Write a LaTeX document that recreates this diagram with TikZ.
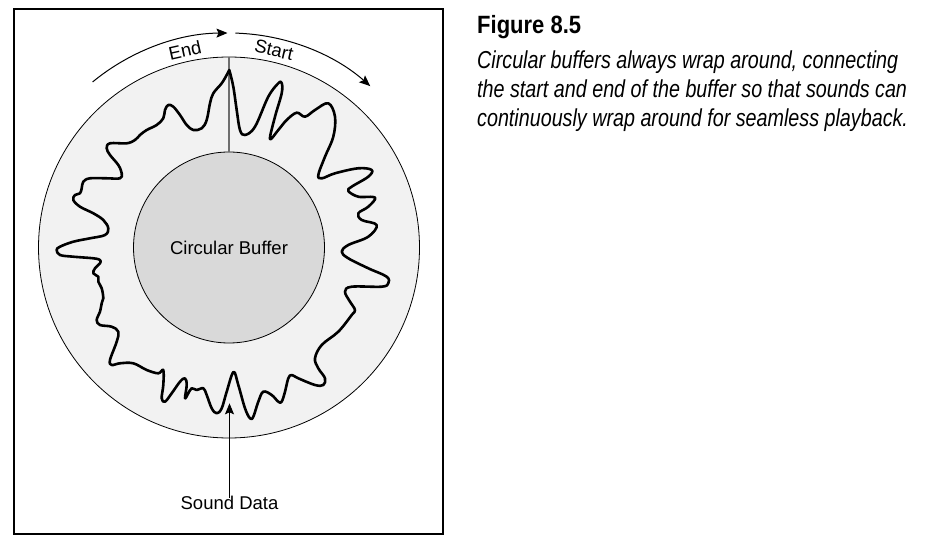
\documentclass[tikz,border=0pt]{standalone}
\usepackage{fontspec}
\setmainfont{Liberation Sans}
\newfontfamily\capfont[FakeStretch=0.805]{Liberation Sans}
\newfontfamily\titfont[FakeStretch=0.88]{Liberation Sans}
\usetikzlibrary{arrows.meta}
\definecolor{ringgray}{HTML}{F2F2F2}
\definecolor{coregray}{HTML}{D9D9D9}
\definecolor{seamgray}{HTML}{6E6E6E}
\tikzset{
  frame/.style={draw=black, line width=2pt},
  ring/.style={circle, draw=black, line width=0.8pt, fill=ringgray, inner sep=0pt},
  core/.style={circle, draw=black, line width=0.8pt, fill=coregray, inner sep=0pt},
  seam/.style={draw=seamgray, line width=1.2pt},
  wave/.style={draw=black, line width=2.6pt, line join=round, line cap=round},
  pointer/.style={draw=black, line width=1pt, -{Stealth[length=11pt,width=9pt,inset=2pt]}},
  lbl/.style={font=\fontsize{18.5}{22}\selectfont, inner sep=0pt},
  captext/.style={font=\capfont\itshape\fontsize{24.5}{29}\selectfont, anchor=base west, inner sep=0pt},
}
\begin{document}
\begin{tikzpicture}[x=1pt,y=-1pt]
\useasboundingbox (0,0) rectangle (929,545);
\draw[frame] (14,9) rectangle (443,534);
\coordinate (C) at (229,247.5);
\node[ring, minimum size=381pt] (outer) at (C) {};
\node[core, minimum size=191pt] (inner) at (C) {};
\draw[seam] (inner.north) -- (outer.north);
\draw[wave] plot[smooth, tension=0.6] coordinates {
(229.3,70) (233.3,86.7) (236.7,110) (240,130) (245,135) (255,126.7) (268.3,96.7) (278.3,83.3) (281.7,83) (281.7,93.3) (275,116.7) (270,139) (278.3,130) (286.7,120) (296.7,112.7) (305,116.7) (315,110) (328.3,103.3) (335,116.7) (333.3,136.7) (325,156.7) (318.3,175) (322,178.3) (335,173.3) (358.3,168.3) (371.7,170) (368.3,176.7) (351.7,186.7) (348.3,191) (358.3,196.7) (375,197.5) (368.3,206.7) (358.3,213.3) (361.7,220) (376.7,225) (368.3,236.7) (348.3,245) (341.7,251.7)
(348.3,258.3) (368.3,268.3) (386.7,276.7) (388.3,283.3) (381.7,286.7) (351.7,286.7) (345,291.7) (350,301.7) (355,310) (351.7,315) (338.3,331.7) (321.7,345) (315,358.3) (318.3,368.3) (325,378.3) (323.3,385) (315,385) (298.3,378.3) (291.7,375) (288.3,378.3) (285,391.7) (281.7,401.7) (278.3,401.7) (271.7,395) (263.3,391.7) (258.3,401.7) (253.3,416.7) (250,418.3) (245,408.3) (238.3,385) (233.5,372)
(226.7,391.7) (221.7,408.3) (216.7,413.3) (211.7,408.3) (206.7,395) (203.3,388.3) (196.7,390) (191.7,388.3) (188.3,393.3) (185,398.3) (186.7,385) (185,378.3) (180,381.7) (171.7,393.3) (165,401.7) (161.7,398.3) (163.3,385) (163.3,370) (158.3,373.3) (146.7,370) (133.3,363.3) (120,363.3) (111.7,365) (110,360) (116.7,341.7) (118.3,331.7) (111.7,326.7) (100,325) (96.7,320) (100,311.7) (101.7,303.3) (103.3,298.3) (101.7,288.3) (98.3,281.7) (98.3,276.7) (93.3,273.3) (95,268.3) (100,263.3) (100,260) (93.3,258.3) (73.3,256.7) (60,255) (56.7,250)
(60,246.7) (73.3,241.7) (90,238.3) (105,235) (108.3,228.3) (103.3,220) (93.3,213.3) (80,206.7) (73.3,200) (75,195) (80,193.3) (81.7,188.3) (83.3,181.7) (90,178.3) (106.7,178.3) (120,178.3) (121.7,173.3) (118.3,165) (110,155) (106.7,148.3) (110,143.3) (126.7,143.3) (135,140) (140,135) (146.7,130) (156.7,125) (163.3,118.3) (165,110) (168.3,105) (173.3,106.7) (180,115) (186.7,125) (193.3,130) (201.7,128.3) (206.7,120) (210,103.3) (213.3,93.3) (221.7,83.3) (226.7,75) (229.3,70)
};
\node[lbl] (buf) at (C) {Circular Buffer};
% wrap arrows
\draw[pointer] (C) ++(-129.5:214.5) arc[start angle=-129.5, end angle=-90.4, radius=214.5] coordinate (endtip);
\draw[pointer] (C) ++(-88.3:214.5) arc[start angle=-88.3, end angle=-48.8, radius=214.5] coordinate (starttip);
\node[lbl, rotate=12.6] (endlbl) at (185,50) {End};
\node[lbl, rotate=-13] (startlbl) at (274,50) {Start};
% sound data pointer
\node[lbl] (sound) at (229.5,502.5) {Sound Data};
\coordinate (wavept) at (229.5,403.3);
\draw[pointer] ([yshift=-2pt]sound.north) -- (wavept);
% caption
\node[font=\titfont\bfseries\fontsize{25}{30}\selectfont, anchor=base west, inner sep=0pt] (title) at (477,33.3) {Figure 8.5};
\node[captext] (cap1) at (477,68.3) {Circular buffers always wrap around, connecting};
\node[captext] (cap2) at (477,97.5) {the start and end of the buffer so that sounds can};
\node[captext] (cap3) at (477,126.7) {continuously wrap around for seamless playback.};
\end{tikzpicture}
\end{document}
